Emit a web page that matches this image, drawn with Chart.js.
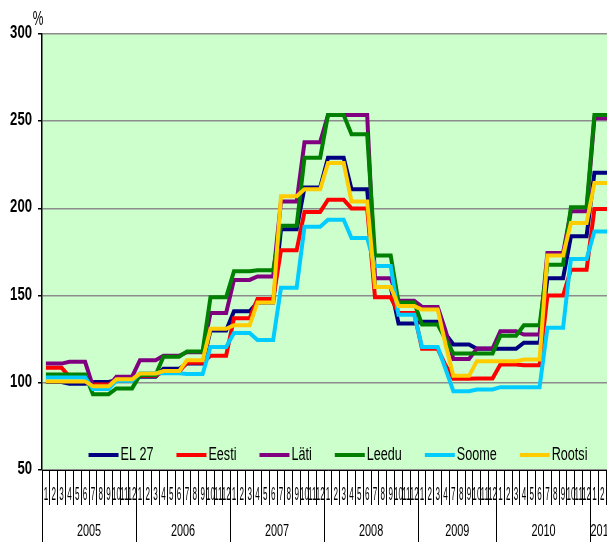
<!DOCTYPE html>
<html>
<head>
<meta charset="utf-8">
<script src="https://cdn.jsdelivr.net/npm/chart.js@4.4.0/dist/chart.umd.min.js"></script>
<style>
html, body { margin: 0; padding: 0; background: #fff; overflow: hidden; }
</style>
</head>
<body>
<canvas id="priceChart" width="620" height="542"></canvas>
<script>
// years on the axis and the months shown for each (2009 has no May/June)
var years = ['2005', '2006', '2007', '2008', '2009', '2010', '2011'];
var monthsByYear = [
    [1, 2, 3, 4, 5, 6, 7, 8, 9, 10, 11, 12],
    [1, 2, 3, 4, 5, 6, 7, 8, 9, 10, 11, 12],
    [1, 2, 3, 4, 5, 6, 7, 8, 9, 10, 11, 12],
    [1, 2, 3, 4, 5, 6, 7, 8, 9, 10, 11, 12],
    [1, 2, 3, 4, 7, 8, 9, 10, 11, 12],
    [1, 2, 3, 4, 5, 6, 7, 8, 9, 10, 11, 12],
    [1, 2, 3]
];
var yTicks = [50, 100, 150, 200, 250, 300];

var el27 = [
    100.5, 100.5, 100.5, 99.5, 99.5, 99.5, 100.5, 100.5, 100.5, 101.5, 101.5, 101.5,
    103.5, 103.5, 103.5, 108, 108, 108, 111, 111, 111, 130, 130, 130,
    141, 141, 141, 146, 146, 146, 188, 188, 188, 212, 212, 212,
    229, 229, 229, 211, 211, 211, 155, 155, 155, 134, 134, 134,
    135, 135, 135, 128, 122, 122, 122, 119.5, 119.5, 119.5,
    119.5, 119.5, 119.5, 123, 123, 123, 160, 160, 160, 184, 184, 184,
    220.5, 220.5, 220.5
];
var eesti = [
    108.6, 108.6, 108.6, 103.5, 103.5, 103.5, 99, 99, 99, 102, 102, 102,
    104, 104, 104, 106.5, 106.5, 106.5, 111.5, 111.5, 111.5, 115.5, 115.5, 115.5,
    137, 137, 137, 148, 148, 148, 176, 176, 176, 198, 198, 198,
    205, 205, 205, 200, 200, 200, 149, 149, 149, 140, 140, 140,
    119.5, 119.5, 119.5, 110, 102.3, 102.3, 102.3, 102.5, 102.5, 102.5,
    110.5, 110.5, 110.5, 110, 110, 110, 150, 150, 150, 164.8, 164.8, 164.8,
    199.6, 199.6, 199.6
];
var lati = [
    111, 111, 111, 112, 112, 112, 98, 98, 98, 103.5, 103.5, 103.5,
    113, 113, 113, 115.5, 115.5, 115.5, 117.5, 117.5, 117.5, 140, 140, 140,
    159, 159, 159, 161, 161, 161, 204, 204, 204, 238, 238, 238,
    253.5, 253.5, 253.5, 253.5, 253.5, 253.5, 160, 160, 160, 147, 147, 147,
    143.5, 143.5, 143.5, 130, 113.7, 113.7, 113.7, 119.6, 119.6, 119.6,
    129.6, 129.6, 129.6, 127.7, 127.7, 127.7, 174.4, 174.4, 174.4, 198.3, 198.3, 198.3,
    251.7, 251.7, 251.7
];
var leedu = [
    104.8, 104.8, 104.8, 104.8, 104.8, 104.8, 93.5, 93.5, 93.5, 96.8, 96.8, 96.8,
    104.5, 104.5, 104.5, 115, 115, 115, 118, 118, 118, 149, 149, 149,
    164, 164, 164, 164.5, 164.5, 164.5, 190, 190, 190, 229, 229, 229,
    253.5, 253.5, 253.5, 242.5, 242.5, 242.5, 173, 173, 173, 146, 146, 146,
    133.4, 133.4, 133.4, 125, 116.8, 116.8, 116.8, 116.8, 116.8, 116.8,
    127, 127, 127, 133, 133, 133, 167.7, 167.7, 167.7, 200.7, 200.7, 200.7,
    253.6, 253.6, 253.6
];
var soome = [
    103, 103, 103, 103, 103, 103, 96.5, 96.5, 96.5, 101.2, 101.2, 101.2,
    105.5, 105.5, 105.5, 105.5, 105.5, 105.5, 105, 105, 105, 120.5, 120.5, 120.5,
    128.5, 128.5, 128.5, 124.5, 124.5, 124.5, 154.5, 154.5, 154.5, 189.5, 189.5, 189.5,
    193.5, 193.5, 193.5, 183, 183, 183, 167, 167, 167, 139, 139, 139,
    120.5, 120.5, 120.5, 108, 95.2, 95.2, 95.2, 96.2, 96.2, 96.2,
    97.5, 97.5, 97.5, 97.5, 97.5, 97.5, 131.5, 131.5, 131.5, 171, 171, 171,
    186.8, 186.8, 186.8
];
var rootsi = [
    100.8, 100.8, 100.8, 100.8, 100.8, 100.8, 98, 98, 98, 102, 102, 102,
    105.3, 105.3, 105.3, 106.7, 106.7, 106.7, 113, 113, 113, 131, 131, 131,
    133, 133, 133, 146, 146, 146, 207, 207, 207, 211, 211, 211,
    226, 226, 226, 204, 204, 204, 155, 155, 155, 144, 144, 144,
    142, 142, 142, 122, 104, 104, 104, 112.4, 112.4, 112.4,
    112.4, 112.4, 112.4, 113.3, 113.3, 113.3, 173, 173, 173, 191.6, 191.6, 191.6,
    214.5, 214.5, 214.5
];

// one category per month, e.g. "2005-1"
var labels = [];
years.forEach(function(y, i) {
    monthsByYear[i].forEach(function(m) { labels.push(y + '-' + m); });
});

function squeezed(c, text, x, y, font, sx, align) {
    c.save();
    c.font = font;
    c.translate(x, y);
    c.scale(sx, 1);
    c.textAlign = align;
    c.textBaseline = 'middle';
    c.fillStyle = '#000';
    c.fillText(text, 0, 0);
    c.restore();
}

var plotBackground = {
    id: 'plotBackground',
    beforeDraw: function(chart) {
        var a = chart.chartArea, c = chart.ctx;
        c.save();
        c.fillStyle = '#ccffcc';
        c.fillRect(a.left, a.top, a.right - a.left, a.bottom - a.top);
        c.restore();
    }
};

var axisText = {
    id: 'axisText',
    afterDraw: function(chart) {
        var c = chart.ctx, a = chart.chartArea;
        var xs = chart.scales.x, ys = chart.scales.y;
        var font = '"Liberation Sans", Arial, sans-serif';

        yTicks.forEach(function(v) {
            squeezed(c, String(v), a.left - 10, ys.getPixelForValue(v) - 1, 'bold 18px ' + font, 0.73, 'right');
        });
        squeezed(c, '%', a.left - 4, 19, '20px ' + font, 0.6, 'center');

        // month numbers and year blocks under the axis
        var cell = xs.getPixelForValue(1) - xs.getPixelForValue(0);
        var idx = 0;
        years.forEach(function(y, i) {
            var first = idx;
            monthsByYear[i].forEach(function(m) {
                squeezed(c, String(m), xs.getPixelForValue(idx), 495, '18px ' + font, 0.45, 'center');
                idx++;
            });
            var x0 = xs.getPixelForValue(first) - cell / 2;
            var x1 = xs.getPixelForValue(idx - 1) + cell / 2;
            c.save();
            c.strokeStyle = '#000';
            c.lineWidth = 1;
            c.beginPath();
            c.moveTo(Math.round(x0) + 0.5, a.bottom);
            c.lineTo(Math.round(x0) + 0.5, chart.height);
            c.stroke();
            c.restore();
            squeezed(c, y, (x0 + x1) / 2, 532, '16px ' + font, 0.68, 'center');
        });

        // legend inside the plot, along the bottom
        var items = chart.data.datasets.slice().sort(function(p, q) { return p.legendIndex - q.legendIndex; });
        c.save();
        c.font = '18px ' + font;
        var sx = 0.7, lineLen = 30, gap = 23;
        var widths = items.map(function(d) { return c.measureText(d.label).width * sx; });
        var total = 0;
        widths.forEach(function(w) { total += lineLen + 2 + w; });
        total += gap * (items.length - 1);
        c.restore();
        var x = (a.left + a.right) / 2 + 10 - total / 2;
        var ly = a.bottom - 15;
        items.forEach(function(d, i) {
            c.save();
            c.strokeStyle = d.borderColor;
            c.lineWidth = 4;
            c.beginPath();
            c.moveTo(x, ly);
            c.lineTo(x + lineLen, ly);
            c.stroke();
            c.restore();
            squeezed(c, d.label, x + lineLen + 2, ly, '18px ' + font, sx, 'left');
            x += lineLen + 2 + widths[i] + gap;
        });
    }
};

var ctx = document.getElementById('priceChart').getContext('2d');
var myChart = new Chart(ctx, {
    type: 'line',
    data: {
        labels: labels,
        datasets: [
            { label: 'EL 27', data: el27, borderColor: '#000080', order: 5, legendIndex: 0 },
            { label: 'Eesti', data: eesti, borderColor: '#ff0000', order: 4, legendIndex: 1 },
            { label: 'Läti', data: lati, borderColor: '#800080', order: 3, legendIndex: 2 },
            { label: 'Leedu', data: leedu, borderColor: '#008000', order: 2, legendIndex: 3 },
            { label: 'Soome', data: soome, borderColor: '#00ccff', order: 1, legendIndex: 4 },
            { label: 'Rootsi', data: rootsi, borderColor: '#ffcc00', order: 0, legendIndex: 5 }
        ]
    },
    options: {
        responsive: false,
        animation: false,
        layout: { autoPadding: false, padding: { top: 34, right: 6, left: 0, bottom: 0 } },
        elements: {
            point: { radius: 0, hoverRadius: 0 },
            line: { tension: 0, borderWidth: 4, fill: false }
        },
        plugins: {
            legend: { display: false },
            tooltip: { enabled: false }
        },
        scales: {
            x: {
                offset: true,
                grid: { offset: true, drawOnChartArea: false, color: '#000', lineWidth: 1, tickLength: 35 },
                border: { color: '#000', width: 1 },
                ticks: { display: false, autoSkip: false },
                afterFit: function(s) { s.height = 72; }
            },
            y: {
                min: 50,
                max: 300,
                ticks: { stepSize: 50, display: false },
                grid: { color: '#8c8c8c', lineWidth: 1.5, tickLength: 4, tickColor: '#000' },
                border: { color: '#000', width: 1.5 },
                afterFit: function(s) { s.width = 42; }
            }
        }
    },
    plugins: [plotBackground, axisText]
});
</script>
</body>
</html>
